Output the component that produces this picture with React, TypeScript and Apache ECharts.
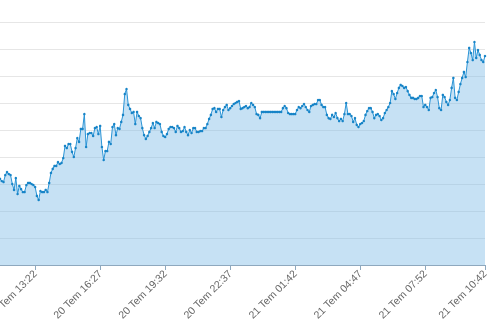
import React, { useEffect, useRef } from "react";
import * as echarts from "echarts";

// Start of the series: 20 Tem 11:42, one point every 5 minutes, until 21 Tem 10:42
const startDay = 20;
const startMinutes = 11 * 60 + 42;
const stepMinutes = 5;
const monthName = "Tem";

// Tick label positions (category indexes): 20 Tem 13:22, 16:27, 19:32, 22:37, 21 Tem 01:42, 04:47, 07:52, 10:42
const tickIndexes = [20, 57, 94, 131, 168, 205, 242, 276];

const values = [
  31.9, 31.1, 30.7, 33.3, 34.4, 33.7, 33.3, 30.0, 27.8, 32.2,
  26.3, 29.3, 28.1, 27.0, 27.0, 29.6, 30.4, 30.4, 30.0, 29.6,
  28.9, 25.6, 24.1, 27.4, 27.0, 27.0, 27.8, 27.0, 30.4, 34.1,
  35.6, 36.7, 36.7, 38.1, 37.4, 37.8, 39.6, 44.1, 43.3, 44.8,
  44.8, 41.9, 40.0, 43.3, 47.0, 45.6, 50.4, 50.4, 55.9, 43.7,
  48.5, 48.9, 48.9, 47.8, 50.7, 51.1, 48.5, 51.5, 43.7, 38.9,
  42.2, 42.2, 45.6, 44.8, 51.1, 52.2, 48.1, 50.7, 50.4, 53.0,
  55.6, 63.3, 65.2, 59.3, 57.8, 56.3, 56.7, 52.2, 56.7, 55.2,
  54.4, 50.7, 48.1, 46.7, 47.8, 49.3, 50.7, 52.6, 50.7, 53.0,
  52.6, 52.2, 49.3, 47.8, 47.4, 48.5, 50.4, 51.1, 51.1, 50.7,
  49.3, 51.5, 50.7, 49.3, 49.6, 51.1, 49.3, 48.1, 50.0, 48.9,
  50.7, 50.7, 49.3, 49.3, 49.6, 49.6, 50.7, 50.7, 52.2, 54.1,
  55.6, 57.8, 58.1, 56.7, 57.8, 57.8, 54.8, 57.4, 58.5, 59.3,
  57.4, 58.1, 58.9, 59.6, 60.0, 60.4, 60.7, 57.8, 58.1, 58.5,
  58.9, 58.1, 58.5, 60.0, 59.3, 58.5, 55.9, 55.6, 54.4, 56.7,
  56.7, 56.7, 56.7, 56.7, 56.7, 56.7, 56.7, 56.7, 56.7, 56.7,
  56.7, 58.1, 58.9, 58.1, 56.3, 55.9, 55.9, 55.9, 55.9, 57.4,
  58.5, 58.1, 58.9, 59.6, 58.5, 57.4, 56.7, 58.9, 59.3, 59.6,
  59.6, 61.1, 61.1, 59.3, 58.5, 58.5, 55.6, 54.4, 54.1, 55.6,
  54.8, 56.3, 54.4, 53.3, 54.1, 53.3, 55.9, 60.0, 55.9, 55.9,
  55.2, 53.0, 54.4, 51.9, 51.1, 52.2, 52.6, 53.3, 55.6, 57.0,
  58.1, 58.1, 56.7, 54.4, 55.6, 55.9, 55.2, 53.7, 54.4, 56.3,
  57.4, 58.5, 60.0, 64.4, 63.3, 61.5, 63.7, 65.6, 66.7, 66.3,
  65.6, 65.9, 64.4, 63.0, 61.9, 61.9, 61.5, 61.5, 61.9, 62.6,
  62.6, 58.5, 59.3, 58.5, 57.4, 61.9, 62.2, 63.7, 64.8, 62.2,
  58.1, 57.4, 63.0, 62.2, 60.4, 59.3, 61.1, 65.6, 69.3, 61.9,
  61.1, 64.1, 67.0, 69.3, 71.5, 69.6, 75.2, 80.4, 78.5, 75.9,
  82.6, 76.7, 79.6, 77.8, 75.9, 75.2, 77.4,
];

const pad = (n: number) => (n < 10 ? "0" + n : "" + n);
const categories: string[] = values.map((_, i) => {
  const total = startMinutes + i * stepMinutes;
  const day = startDay + Math.floor(total / 1440);
  const m = total % 1440;
  return `${day} ${monthName} ${pad(Math.floor(m / 60))}:${pad(m % 60)}`;
});

export default function App() {
  const ref = useRef<HTMLDivElement>(null);
  useEffect(() => {
    if (!ref.current) return;
    const chart = echarts.init(ref.current, undefined, { renderer: "svg" });
    const showIdx = (index: number) => tickIndexes.indexOf(index) >= 0;
    chart.setOption({
      animation: false,
      grid: {
        left: 0,
        right: 15,
        top: 22,
        bottom: 67,
        containLabel: false,
        outerBoundsMode: "none",
      },
      xAxis: {
        type: "category",
        data: categories,
        boundaryGap: false,
        axisLine: { show: true, lineStyle: { color: "#8ea8be", width: 1 } },
        axisTick: {
          show: true,
          interval: showIdx,
          length: 5,
          lineStyle: { color: "#8ea8be" },
        },
        axisLabel: {
          interval: showIdx,
          rotate: 45,
          color: "#666666",
          fontSize: 10.5,
          fontFamily: "Liberation Sans, Arial, sans-serif",
          margin: 7,
          hideOverlap: false,
        },
        splitLine: { show: false },
      },
      yAxis: {
        type: "value",
        min: 0,
        max: 90,
        interval: 10,
        axisLine: { show: false },
        axisTick: { show: false },
        axisLabel: { show: false },
        splitLine: { show: true, lineStyle: { color: "#e6e6e6", width: 1 } },
      },
      series: [
        {
          type: "line",
          data: values,
          showSymbol: true,
          showAllSymbol: true,
          symbol: "circle",
          symbolSize: 2.5,
          itemStyle: { color: "#1784c7" },
          lineStyle: { color: "#2a94d6", width: 1 },
          areaStyle: { color: "rgba(129,189,231,0.45)", opacity: 1, origin: "start" },
        },
      ],
    });
    return () => chart.dispose();
  }, []);
  return (
    <div
      ref={ref}
      style={{ position: "fixed", left: 0, top: 0, width: 500, height: 332 }}
    />
  );
}
